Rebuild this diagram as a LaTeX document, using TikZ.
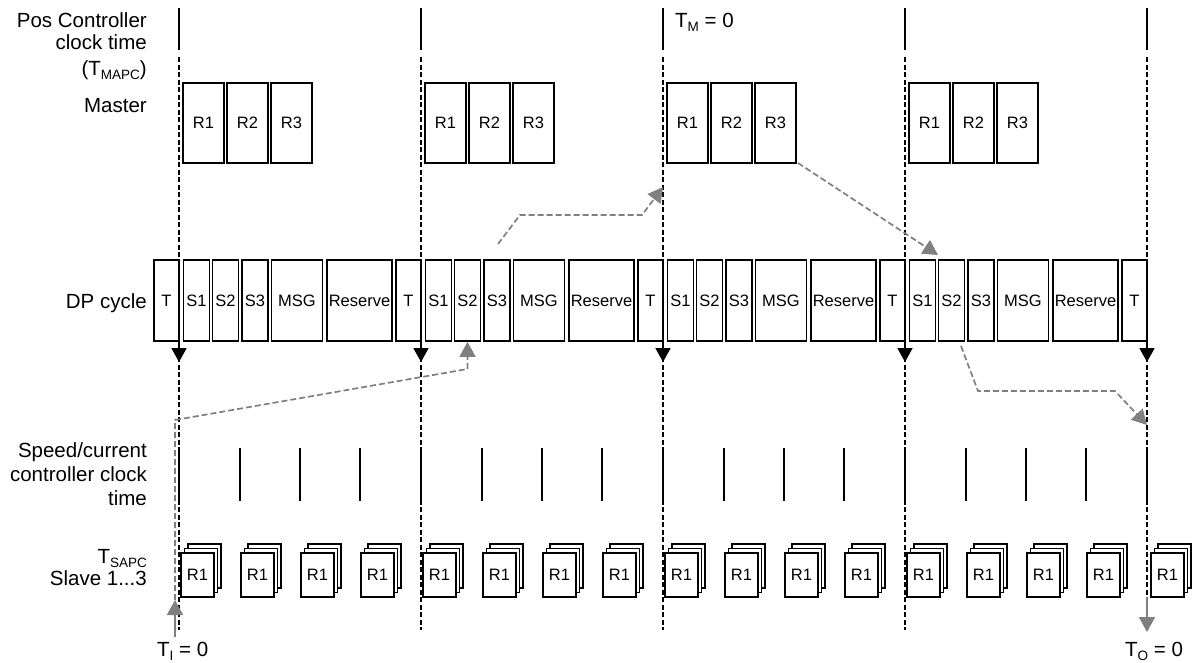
\documentclass[tikz,border=0pt]{standalone}
\usepackage{fontspec}
\setmainfont{Liberation Sans}
\usetikzlibrary{arrows.meta,calc}
\definecolor{arrgray}{RGB}{128,128,128}
\newcommand{\lowsub}[1]{\raisebox{-4pt}{\fontsize{13.5}{13.5}\selectfont #1}}
\begin{document}
\begin{tikzpicture}[x=1pt,y=-1pt,
  lbl/.style={font=\fontsize{20.5}{23}\selectfont, inner sep=0pt},
  cellbox/.style={draw, line width=1.7pt, fill=white, inner sep=0pt, font=\fontsize{16.5}{18}\selectfont},
  cycsolid/.style={line width=1.7pt},
  cycdash/.style={line width=1.6pt, dash pattern=on 5pt off 2.5pt},
  tickline/.style={line width=1.5pt},
  blackhead/.style={-{Triangle[length=14pt,width=15pt]}},
  grayhead/.style={-{Triangle[length=15pt,width=16pt]}},
  graydash/.style={draw=arrgray, line width=1.7pt, dash pattern=on 6pt off 3pt, grayhead, color=arrgray},
  graysolid/.style={draw=arrgray, line width=1.7pt, grayhead, color=arrgray}
]
\useasboundingbox (0,0) rectangle (1197,662);

% ---------- row labels ----------
\node[lbl,anchor=base east] (lpos1) at (147,27) {Pos Controller};
\node[lbl,anchor=base east] (lpos2) at (147,49) {clock time};
\node[lbl,anchor=base east] (lpos3) at (147,75) {(T\lowsub{MAPC})};
\node[lbl,anchor=base east] (lmaster) at (147,112) {Master};
\node[lbl,anchor=base east] (ldp) at (147,308) {DP cycle};
\node[lbl,anchor=base east] (lsp1) at (147,457) {Speed/current};
\node[lbl,anchor=base east] (lsp2) at (147,481) {controller clock};
\node[lbl,anchor=base east] (lsp3) at (147,505) {time};
\node[lbl,anchor=base east] (lsapc) at (147,563) {T\lowsub{SAPC}};
\node[lbl,anchor=base east] (lslave) at (147,585) {Slave 1...3};
\node[lbl,anchor=base west] (tm) at (675,27) {T\lowsub{M} = 0};
\node[lbl,anchor=base west] (ti) at (157,656) {T\lowsub{I} = 0};
\node[lbl,anchor=base west] (to) at (1125,656) {T\lowsub{O} = 0};

% ---------- T boxes of the DP cycle (one before each cycle line) ----------
\foreach \c [count=\k] in {179,421,663,905,1147} {
  \node[cellbox, minimum width=25pt, minimum height=81pt] (dT\k) at (\c-12.5,300.5) {T};
}

% ---------- cycles ----------
\foreach \i [evaluate=\i as \c using 179+242*\i] in {0,...,3} {
  % master
  \node[cellbox, minimum width=41pt, minimum height=80pt] (m\i-R1) at (\c+24.5,123) {R1};
  \node[cellbox, minimum width=41pt, minimum height=80pt] (m\i-R2) at (\c+68.5,123) {R2};
  \node[cellbox, minimum width=41pt, minimum height=80pt] (m\i-R3) at (\c+112.5,123) {R3};
  % DP cycle
  \node[cellbox, minimum width=26pt, minimum height=81pt] (d\i-S1) at (\c+17.5,300.5) {S1};
  \node[cellbox, minimum width=26pt, minimum height=81pt] (d\i-S2) at (\c+46.5,300.5) {S2};
  \node[cellbox, minimum width=26pt, minimum height=81pt] (d\i-S3) at (\c+76,300.5) {S3};
  \node[cellbox, minimum width=51pt, minimum height=81pt] (d\i-MSG) at (\c+118,300.5) {MSG};
  \node[cellbox, minimum width=65.5pt, minimum height=81pt] (d\i-Res) at (\c+180.5,300.5) {Reserve};
  % speed / current controller ticks
  \foreach \t in {61,121,181} {
    \draw[tickline] (\c+\t,448) -- (\c+\t,501);
  }
  % slave stacks
  \foreach \t [count=\j] in {2,62,122,182} {
    \node[cellbox, minimum width=33pt, minimum height=44pt] (s\i-\j-c) at (\c+\t+16.5+7,575-9) {};
    \node[cellbox, minimum width=33pt, minimum height=44pt] (s\i-\j-b) at (\c+\t+16.5+3.5,575-4.5) {};
    \node[cellbox, minimum width=33pt, minimum height=44pt] (s\i-\j-a) at (\c+\t+16.5,575) {R1};
  }
}
% last slave stack after the final cycle line
\node[cellbox, minimum width=33pt, minimum height=44pt] (s4-1-c) at (1151+16.5+7,575-9) {};
\node[cellbox, minimum width=33pt, minimum height=44pt] (s4-1-b) at (1151+16.5+3.5,575-4.5) {};
\node[cellbox, minimum width=33pt, minimum height=44pt] (s4-1-a) at (1151+16.5,575) {R1};

% ---------- cycle lines ----------
\foreach \c/\e in {179/630,421/630,663/630,905/630,1147/597} {
  \draw[cycdash] (\c,57) -- (\c,\e);
  \draw[cycsolid] (\c,8) -- (\c,50);
  \draw[cycsolid,blackhead] (\c,260) -- (\c,362);
  \draw[cycsolid] (\c,448) -- (\c,501);
}

% ---------- gray signal paths ----------
\coordinate (g1a) at (175,637);
\coordinate (g1b) at (175,600);
\coordinate (g1c) at (175,420);
\coordinate (g1d) at (467.5,369);
\draw[graysolid] (g1a) -- (g1b);
\draw[graydash] (g1b) -- (g1c) -- (g1d) -- (d1-S2.south);

\coordinate (g2a) at (498,244);
\coordinate (g2b) at (520,215);
\coordinate (g2c) at (642,215);
\coordinate (g2d) at (663,187);
\draw[graydash] (g2a) -- (g2b) -- (g2c) -- (g2d);

\coordinate (g3a) at (798,163);
\coordinate (g3b) at (938,255);
\draw[graydash] (g3a) -- (g3b);

\coordinate (g4a) at (961,346);
\coordinate (g4b) at (978,391);
\coordinate (g4c) at (1115,391);
\coordinate (g4d) at (1147,425);
\draw[graydash] (g4a) -- (g4b) -- (g4c) -- (g4d);

\coordinate (g5a) at (1147,597);
\coordinate (g5b) at (1147,632);
\draw[graysolid] (g5a) -- (g5b);
\end{tikzpicture}
\end{document}
